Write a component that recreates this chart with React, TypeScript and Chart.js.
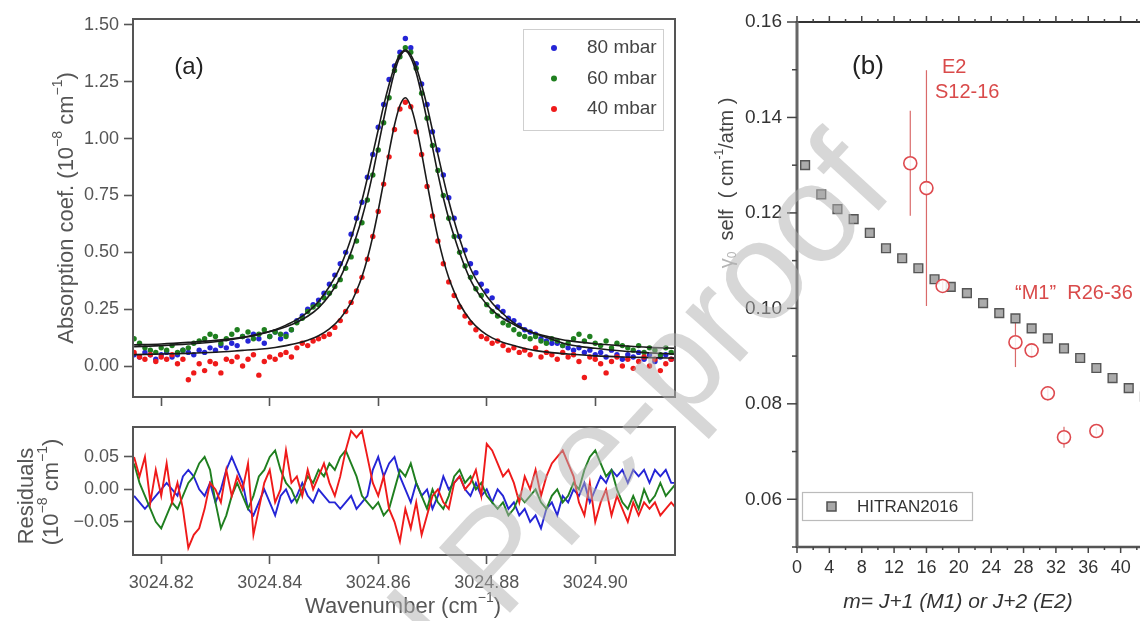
import { useEffect, useRef } from "react";
import { Chart, registerables } from "chart.js";

Chart.register(...registerables);

const FONT = '"Liberation Sans", Arial, Helvetica, sans-serif';

// ---------------- Panel (a) data ----------------
// wavenumber grid: offsets in 1e-3 cm^-1 above 3024.8
const WN_BASE = 3024.8;
const GRID_OFFSETS = [
  15, 16, 17, 18, 19, 20, 21, 22, 23, 24, 25, 26, 27, 28, 29, 30, 31, 32, 33, 34,
  35, 36, 37, 38, 39, 40, 41, 42, 43, 44, 45, 46, 47, 48, 49, 50, 51, 52, 53, 54,
  55, 56, 57, 58, 59, 60, 61, 62, 63, 64, 65, 66, 67, 68, 69, 70, 71, 72, 73, 74,
  75, 76, 77, 78, 79, 80, 81, 82, 83, 84, 85, 86, 87, 88, 89, 90, 91, 92, 93, 94,
  95, 96, 97, 98, 99, 100, 101, 102, 103, 104, 105, 106, 107, 108, 109, 110, 111, 112, 113, 114, 115,
];
const FIT_OFFSETS = [
  15, 20, 25, 30, 35, 38, 41, 43, 45, 47, 49, 51, 53, 55, 56, 57, 58, 59, 60, 61, 62, 63, 64,
  65, 66, 67, 68, 69, 70, 71, 72, 73, 74, 75, 77, 79, 81, 83, 85, 87, 89, 92, 95, 100, 105, 110, 115,
];

const DOTS_80 = [
  0.05, 0.04, 0.06, 0.05, 0.03, 0.05, 0.06, 0.04, 0.05, 0.07,
  0.06, 0.05, 0.07, 0.06, 0.08, 0.07, 0.09, 0.08, 0.10, 0.09,
  0.13, 0.11, 0.14, 0.12, 0.10, 0.13, 0.15, 0.12, 0.14, 0.16,
  0.20, 0.22, 0.25, 0.27, 0.29, 0.32, 0.36, 0.40, 0.45, 0.50,
  0.58, 0.65, 0.72, 0.83, 0.93, 1.05, 1.15, 1.26, 1.32, 1.38,
  1.44,
  1.40, 1.33, 1.24, 1.15, 1.03, 0.95, 0.84, 0.74, 0.65, 0.57,
  0.51, 0.45, 0.41, 0.36, 0.33, 0.30, 0.26, 0.24, 0.21, 0.20,
  0.18, 0.16, 0.15, 0.14, 0.12, 0.11, 0.10, 0.10, 0.09, 0.08,
  0.07, 0.08, 0.06, 0.07, 0.05, 0.06, 0.04, 0.07, 0.05, 0.03,
  0.05, 0.04, 0.06, 0.03, 0.05, 0.02, 0.04, 0.05, 0.03, 0.04,
];
const DOTS_60 = [
  0.12, 0.10, 0.08, 0.07, 0.06, 0.08, 0.07, 0.09, 0.06, 0.07,
  0.08, 0.10, 0.11, 0.12, 0.14, 0.13, 0.10, 0.12, 0.14, 0.16,
  0.13, 0.15, 0.12, 0.14, 0.16, 0.13, 0.15, 0.14, 0.13, 0.16,
  0.19, 0.21, 0.24, 0.26, 0.27, 0.30, 0.32, 0.35, 0.38, 0.43,
  0.48, 0.55, 0.63, 0.73, 0.84, 0.95, 1.07, 1.18, 1.30, 1.36,
  1.40,
  1.38, 1.31, 1.20, 1.09, 0.97, 0.86, 0.75, 0.65, 0.57, 0.50,
  0.44, 0.39, 0.34, 0.31, 0.27, 0.24, 0.22, 0.19, 0.18, 0.16,
  0.14, 0.13, 0.12, 0.13, 0.11, 0.10, 0.12, 0.11, 0.09, 0.10,
  0.12, 0.14, 0.11, 0.13, 0.10, 0.09, 0.11, 0.08, 0.10, 0.09,
  0.08, 0.07, 0.09, 0.06, 0.08, 0.07, 0.05, 0.08, 0.06, 0.07,
];
const DOTS_40 = [
  0.06, 0.04, 0.03, 0.05, 0.02, 0.04, 0.03, 0.05, 0.01, 0.03,
  -0.06, -0.03, 0.01, -0.02, 0.02, 0.01, -0.03, 0.03, 0.02, 0.04,
  0.00, 0.03, 0.05, -0.04, 0.02, 0.04, 0.03, 0.05, 0.06, 0.04,
  0.08, 0.10, 0.09, 0.11, 0.12, 0.13, 0.14, 0.17, 0.20, 0.24,
  0.28, 0.33, 0.39, 0.47, 0.57, 0.68, 0.80, 0.92, 1.04, 1.13,
  1.16,
  1.14, 1.03, 0.93, 0.79, 0.66, 0.55, 0.45, 0.37, 0.31, 0.26,
  0.22, 0.19, 0.16, 0.13, 0.12, 0.10, 0.11, 0.09, 0.07, 0.08,
  0.06, 0.07, 0.05, 0.08, 0.04, 0.06, 0.05, 0.03, 0.06, 0.04,
  0.05, 0.02, -0.05, 0.04, 0.03, 0.01, -0.03, 0.02, 0.04, 0.00,
  0.03, -0.01, 0.02, 0.04, 0.00, 0.03, -0.02, 0.01, 0.03, 0.02,
];

const FIT_80 = [
  0.085, 0.090, 0.097, 0.107, 0.125, 0.139, 0.160, 0.180, 0.204, 0.237, 0.284, 0.350, 0.436, 0.562,
  0.641, 0.728, 0.827, 0.933, 1.039, 1.145, 1.238, 1.317, 1.370, 1.390,
  1.368, 1.315, 1.236, 1.143, 1.037, 0.931, 0.825, 0.726, 0.639, 0.560,
  0.429, 0.343, 0.277, 0.230, 0.190, 0.163, 0.142, 0.118, 0.095, 0.078, 0.066, 0.058, 0.052,
];
const FIT_60 = [
  0.093, 0.097, 0.104, 0.113, 0.127, 0.141, 0.158, 0.173, 0.193, 0.219, 0.256, 0.311, 0.389, 0.501,
  0.573, 0.651, 0.743, 0.848, 0.966, 1.084, 1.195, 1.293, 1.359, 1.385,
  1.356, 1.290, 1.192, 1.081, 0.963, 0.845, 0.740, 0.648, 0.570, 0.498,
  0.379, 0.301, 0.246, 0.209, 0.183, 0.158, 0.143, 0.126, 0.112, 0.098, 0.089, 0.082, 0.078,
];
const FIT_40 = [
  0.050, 0.053, 0.056, 0.061, 0.069, 0.074, 0.082, 0.090, 0.100, 0.114, 0.133, 0.163, 0.209, 0.279,
  0.331, 0.393, 0.473, 0.570, 0.684, 0.810, 0.941, 1.060, 1.146, 1.180,
  1.141, 1.055, 0.936, 0.805, 0.679, 0.565, 0.468, 0.388, 0.326, 0.274,
  0.202, 0.155, 0.124, 0.104, 0.090, 0.077, 0.068, 0.059, 0.053, 0.045, 0.040, 0.037, 0.035,
];

const RES_80 = [
  -0.01, -0.02, -0.03, -0.02, -0.01, 0.00, 0.01, 0.00, -0.01, 0.02,
  0.03, 0.02, 0.00, -0.01, 0.01, -0.02, 0.00, 0.03, 0.05, 0.03,
  0.01, -0.03, -0.04, -0.02, 0.00, -0.02, -0.04, -0.01, 0.00, -0.02,
  -0.01, 0.01, -0.01, -0.02, 0.00, -0.01, -0.02, -0.02, -0.03, -0.02,
  -0.01, -0.03, -0.02, -0.01, 0.03, 0.05, 0.02, 0.04, 0.05, 0.02,
  0.00, -0.02, 0.01, -0.01, 0.00, -0.03, -0.01, 0.02, 0.00, 0.01,
  0.02, 0.00, -0.01, 0.01, -0.01, 0.00, -0.02, 0.00, -0.01, -0.03,
  -0.02, -0.04, -0.03, -0.05, -0.04, -0.06, -0.03, -0.02, -0.04, -0.01,
  -0.02, 0.00, -0.01, 0.01, -0.02, 0.00, 0.02, 0.01, 0.03, 0.02,
  0.03, 0.01, 0.03, 0.02, 0.03, 0.01, 0.03, 0.02, 0.03, 0.01, 0.01,
];
const RES_60 = [
  0.04, 0.01, -0.01, -0.03, -0.05, -0.06, -0.04, -0.02, -0.03, -0.01,
  0.01, 0.02, 0.04, 0.05, 0.03, -0.02, -0.06, -0.04, -0.01, 0.01,
  -0.01, -0.03, -0.01, 0.02, 0.03, 0.05, 0.06, 0.03, 0.01, 0.00,
  -0.02, 0.00, 0.02, 0.01, 0.03, 0.02, 0.04, 0.03, 0.05, 0.06,
  0.04, 0.02, -0.01, -0.02, -0.03, -0.02, -0.04, -0.03, 0.00, 0.03,
  0.02, 0.04, 0.01, -0.01, -0.03, 0.00, -0.02, -0.03, -0.01, 0.02,
  0.03, 0.01, 0.02, 0.00, 0.01, -0.01, -0.02, -0.03, -0.02, -0.04,
  -0.03, -0.01, -0.02, -0.01, 0.00, -0.02, -0.03, -0.01, 0.00, -0.02,
  -0.01, 0.01, 0.00, 0.03, 0.05, 0.06, 0.04, 0.02, 0.03, 0.00,
  -0.02, -0.03, -0.01, -0.03, 0.00, -0.02, -0.01, 0.01, -0.01, 0.00, 0.01,
];
const RES_40 = [
  0.05, 0.02, 0.05, -0.02, 0.03, -0.01, 0.04, -0.02, 0.01, -0.03,
  -0.09, -0.07, -0.06, -0.03, 0.01, 0.00, -0.02, 0.03, -0.01, 0.02,
  0.00, 0.04, -0.07, -0.03, 0.01, 0.03, -0.02, 0.00, 0.06, 0.01,
  0.02, -0.01, 0.03, 0.00, 0.02, 0.04, 0.01, -0.01, 0.02, 0.06,
  0.09, 0.08, 0.09, 0.05, 0.01, -0.01, 0.02, -0.03, -0.05, -0.08,
  -0.03, -0.06, -0.02, -0.07, -0.04, -0.01, 0.00, -0.02, -0.03, 0.01,
  0.02, 0.00, 0.01, 0.03, -0.01, 0.07, 0.06, 0.04, 0.02, 0.03,
  0.01, -0.02, 0.02, 0.00, 0.03, -0.01, 0.02, 0.04, 0.05, 0.06,
  0.04, 0.02, -0.02, -0.04, 0.01, -0.05, -0.02, 0.00, -0.04, -0.01,
  -0.03, -0.05, -0.02, -0.04, -0.02, -0.03, -0.02, -0.04, -0.03, -0.02, -0.03,
];

const SERIES_LABELS = ["80 mbar", "60 mbar", "40 mbar"];
const SERIES_COLORS = ["#2525d6", "#1f7f1f", "#ef1a1a"];

const WN_TICKS = [3024.82, 3024.84, 3024.86, 3024.88, 3024.9];
const ABS_TICKS = [0, 0.25, 0.5, 0.75, 1.0, 1.25, 1.5];
const RES_TICKS = [-0.05, 0, 0.05];

// ---------------- Panel (b) data ----------------
const HITRAN_M = [1, 3, 5, 7, 9, 11, 13, 15, 17, 19, 21, 23, 25, 27, 29, 31, 33, 35, 37, 39, 41, 43];
const HITRAN_G = [
  0.130, 0.1239, 0.1208, 0.1187, 0.1158, 0.1126, 0.1105, 0.1084, 0.1061, 0.1045, 0.1032,
  0.1011, 0.0990, 0.0979, 0.0958, 0.0937, 0.0916, 0.0896, 0.0875, 0.0854, 0.0833, 0.0815,
];
const MEAS_M = [14, 16, 18, 27, 29, 31, 33, 37];
const MEAS_G = [0.1304, 0.1252, 0.1047, 0.0929, 0.0912, 0.0822, 0.0730, 0.0743];
const MEAS_ERR = [0.011, 0.0247, 0.001, 0.0052, 0.0012, 0.0015, 0.0022, 0.0008];
const M_TICKS = [0, 4, 8, 12, 16, 20, 24, 28, 32, 36, 40];
const G_TICKS = [0.06, 0.08, 0.1, 0.12, 0.14, 0.16];

// ---------------- helpers ----------------
type Seg = { t: string; sup?: boolean; sub?: boolean; color?: string };

function drawRich(
  ctx: CanvasRenderingContext2D,
  segs: Seg[],
  x: number,
  y: number,
  o: { size: number; color: string; rot?: number; align?: "left" | "center"; italic?: boolean }
) {
  ctx.save();
  ctx.translate(x, y);
  if (o.rot) ctx.rotate(o.rot);
  const fontOf = (s: Seg) =>
    `${o.italic ? "italic " : ""}${s.sup || s.sub ? Math.round(o.size * 0.62) : o.size}px ${FONT}`;
  let total = 0;
  const widths = segs.map((s) => {
    ctx.font = fontOf(s);
    const w = ctx.measureText(s.t).width;
    total += w;
    return w;
  });
  let cx = o.align === "left" ? 0 : -total / 2;
  ctx.textBaseline = "middle";
  ctx.textAlign = "left";
  segs.forEach((s, i) => {
    ctx.font = fontOf(s);
    ctx.fillStyle = s.color || o.color;
    const dy = s.sup ? -o.size * 0.38 : s.sub ? o.size * 0.28 : 0;
    ctx.fillText(s.t, cx, dy);
    cx += widths[i];
  });
  ctx.restore();
}

const wn = (o: number) => +(WN_BASE + o / 1000).toFixed(4);
const pts = (xs: number[], ys: number[]) => xs.map((x, i) => ({ x, y: ys[i] }));
const fmt2 = (v: number) => (v < 0 ? "\u2212" : "") + Math.abs(v).toFixed(2);

function axisA(min: number, max: number, ticks: number[], isX: boolean, fitSize: number, showLabels: boolean, fmt: (v: number) => string) {
  return {
    type: "linear",
    min,
    max,
    afterBuildTicks: (s: any) => {
      s.ticks = ticks.map((v) => ({ value: v }));
    },
    afterFit: (s: any) => {
      if (isX) s.height = fitSize;
      else s.width = fitSize;
    },
    ticks: {
      display: showLabels,
      font: { family: FONT, size: 18 },
      color: "#555",
      padding: isX ? 8 : 5,
      maxRotation: 0,
      autoSkip: false,
      callback: (v: any) => fmt(Number(v)),
    },
    grid: {
      display: true,
      drawOnChartArea: false,
      drawTicks: true,
      tickLength: 9,
      tickWidth: 1.6,
      tickColor: "#555",
      color: "#555",
    },
    border: { display: false },
  };
}

const frame = {
  id: "frame",
  afterDraw(chart: any) {
    const { ctx, chartArea: a } = chart;
    ctx.save();
    ctx.strokeStyle = "#555";
    ctx.lineWidth = 2;
    ctx.strokeRect(a.left, a.top, a.right - a.left, a.bottom - a.top);
    ctx.restore();
  },
};

const decoTop = {
  id: "decoTop",
  afterDraw(chart: any) {
    const ctx = chart.ctx as CanvasRenderingContext2D;
    drawRich(ctx, [{ t: "(a)" }], 189, 67, { size: 24, color: "#222" });
    drawRich(
      ctx,
      [{ t: "Absorption coef. (10" }, { t: "\u22128", sup: true }, { t: " cm" }, { t: "\u22121", sup: true }, { t: ")" }],
      67,
      208,
      { size: 22, color: "#555", rot: -Math.PI / 2 }
    );
    ctx.save();
    ctx.strokeStyle = "#cfcfcf";
    ctx.lineWidth = 1;
    ctx.strokeRect(523.5, 29.5, 140, 101);
    SERIES_LABELS.forEach((lab, i) => {
      const y = 48 + i * 30.5;
      ctx.fillStyle = SERIES_COLORS[i];
      ctx.beginPath();
      ctx.arc(554, y, 3, 0, Math.PI * 2);
      ctx.fill();
      drawRich(ctx, [{ t: lab }], 587, y, { size: 19, color: "#444", align: "left" });
    });
    ctx.restore();
  },
};

const decoRes = {
  id: "decoRes",
  afterDraw(chart: any) {
    const ctx = chart.ctx as CanvasRenderingContext2D;
    drawRich(ctx, [{ t: "Residuals" }], 27, 91, { size: 22, color: "#555", rot: -Math.PI / 2 });
    drawRich(
      ctx,
      [{ t: "(10" }, { t: "\u22128", sup: true }, { t: " cm" }, { t: "\u22121", sup: true }, { t: ")" }],
      52,
      87,
      { size: 22, color: "#555", rot: -Math.PI / 2 }
    );
    drawRich(ctx, [{ t: "Wavenumber (cm" }, { t: "\u22121", sup: true }, { t: ")" }], 403, 202, { size: 22, color: "#555" });
  },
};

const decoB = {
  id: "decoB",
  beforeDatasetsDraw(chart: any) {
    const { ctx, scales } = chart;
    const x = scales.x, y = scales.y;
    ctx.save();
    ctx.strokeStyle = "#d96a6a";
    ctx.lineWidth = 1.2;
    MEAS_M.forEach((m, i) => {
      const px = x.getPixelForValue(m);
      ctx.beginPath();
      ctx.moveTo(px, y.getPixelForValue(MEAS_G[i] - MEAS_ERR[i]));
      ctx.lineTo(px, y.getPixelForValue(MEAS_G[i] + MEAS_ERR[i]));
      ctx.stroke();
    });
    ctx.restore();
  },
  afterDraw(chart: any) {
    const ctx = chart.ctx as CanvasRenderingContext2D;
    const a = chart.chartArea;
    const x = chart.scales.x, y = chart.scales.y;
    const line = (x1: number, y1: number, x2: number, y2: number) => {
      ctx.beginPath();
      ctx.moveTo(x1, y1);
      ctx.lineTo(x2, y2);
      ctx.stroke();
    };
    ctx.save();
    ctx.strokeStyle = "#333";
    ctx.lineWidth = 2;
    line(a.left, a.top, a.right, a.top);
    ctx.strokeStyle = "#555";
    ctx.lineWidth = 2.5;
    line(a.left, a.bottom, a.right, a.bottom);
    ctx.strokeStyle = "#666";
    ctx.lineWidth = 3;
    line(a.left, a.top - 1, a.left, a.bottom + 1);
    ctx.strokeStyle = "#444";
    ctx.lineWidth = 1.5;
    for (let v = 0; v <= 44; v += 2) {
      const px = x.getPixelForValue(v);
      const len = v % 4 === 0 ? 6 : 3;
      line(px, a.top, px, a.top - len);
      line(px, a.bottom, px, a.bottom + len);
    }
    for (let k = 5; k <= 16; k++) {
      const py = y.getPixelForValue(k / 100);
      const len = k % 2 === 0 ? 10 : 5;
      line(a.left, py, a.left - len, py);
    }
    ctx.restore();

    drawRich(ctx, [{ t: "(b)" }], 168, 87, { size: 26, color: "#222" });
    drawRich(ctx, [{ t: "E2" }], 242, 87, { size: 20, color: "#d94a4a", align: "left" });
    drawRich(ctx, [{ t: "S12-16" }], 235, 112, { size: 20, color: "#d94a4a", align: "left" });
    drawRich(ctx, [{ t: "\u201CM1\u201D  R26-36" }], 315, 313, { size: 20, color: "#d94a4a", align: "left" });
    drawRich(
      ctx,
      [
        { t: "\u03B3", color: "#b5b5b5" },
        { t: "0", sub: true, color: "#b5b5b5" },
        { t: "  self  ( cm" },
        { t: "-1", sup: true },
        { t: "/atm )" },
      ],
      27,
      203,
      { size: 20, color: "#444", rot: -Math.PI / 2 }
    );
    drawRich(ctx, [{ t: "m= J+1 (M1) or J+2 (E2)" }], 258, 622, { size: 21, color: "#333", italic: true });
    ctx.save();
    ctx.strokeStyle = "#bbb";
    ctx.lineWidth = 1.2;
    ctx.strokeRect(102.5, 512.5, 170, 28);
    ctx.fillStyle = "#a8a8a8";
    ctx.fillRect(127, 522, 9, 9);
    ctx.strokeStyle = "#505050";
    ctx.lineWidth = 1.5;
    ctx.strokeRect(127, 522, 9, 9);
    ctx.restore();
    drawRich(ctx, [{ t: "HITRAN2016" }], 157, 527, { size: 17, color: "#333", align: "left" });
  },
};

function makeTop(canvas: HTMLCanvasElement) {
  const gx = GRID_OFFSETS.map(wn);
  const fx = FIT_OFFSETS.map(wn);
  const dotDs = (ys: number[], color: string, order: number) => ({
    data: pts(gx, ys),
    backgroundColor: color,
    borderColor: color,
    borderWidth: 0,
    pointRadius: 2.7,
    pointHoverRadius: 2.7,
    showLine: false,
    order,
  });
  const fitDs = (ys: number[]) => ({
    data: pts(fx, ys),
    showLine: true,
    borderColor: "#1a1a1a",
    borderWidth: 1.6,
    pointRadius: 0,
    cubicInterpolationMode: "monotone",
    fill: false,
    order: 0,
  });
  return new Chart(canvas, {
    type: "scatter",
    data: {
      datasets: [
        dotDs(DOTS_80, SERIES_COLORS[0], 3),
        dotDs(DOTS_60, SERIES_COLORS[1], 2),
        dotDs(DOTS_40, SERIES_COLORS[2], 1),
        fitDs(FIT_80),
        fitDs(FIT_60),
        fitDs(FIT_40),
      ],
    } as any,
    options: {
      animation: false,
      responsive: false,
      devicePixelRatio: 1,
      events: [],
      layout: { padding: { top: 19, right: 15, left: 0, bottom: 0 } },
      plugins: { legend: { display: false }, tooltip: { enabled: false } },
      scales: {
        x: axisA(3024.8148, 3024.9147, WN_TICKS, true, 23, false, (v) => v.toFixed(2)),
        y: axisA(-0.136, 1.526, ABS_TICKS, false, 133, true, fmt2),
      } as any,
    },
    plugins: [frame, decoTop],
  } as any);
}

function makeRes(canvas: HTMLCanvasElement) {
  const gx = GRID_OFFSETS.map(wn);
  const lineDs = (ys: number[], color: string, order: number) => ({
    data: pts(gx, ys),
    showLine: true,
    borderColor: color,
    borderWidth: 1.9,
    pointRadius: 0,
    tension: 0,
    fill: false,
    order,
  });
  return new Chart(canvas, {
    type: "scatter",
    data: {
      datasets: [
        lineDs(RES_80, SERIES_COLORS[0], 2),
        lineDs(RES_60, SERIES_COLORS[1], 1),
        lineDs(RES_40, SERIES_COLORS[2], 0),
      ],
    } as any,
    options: {
      animation: false,
      responsive: false,
      devicePixelRatio: 1,
      events: [],
      layout: { padding: { top: 22, right: 15, left: 0, bottom: 0 } },
      plugins: { legend: { display: false }, tooltip: { enabled: false } },
      scales: {
        x: axisA(3024.8148, 3024.9147, WN_TICKS, true, 66, true, (v) => v.toFixed(2)),
        y: axisA(-0.101, 0.096, RES_TICKS, false, 133, true, fmt2),
      } as any,
    },
    plugins: [frame, decoRes],
  } as any);
}

function makeB(canvas: HTMLCanvasElement) {
  return new Chart(canvas, {
    type: "scatter",
    data: {
      datasets: [
        {
          label: "HITRAN2016",
          data: pts(HITRAN_M, HITRAN_G),
          pointStyle: "rect",
          pointRadius: 6.2,
          pointHoverRadius: 6.2,
          backgroundColor: "#ababab",
          borderColor: "#555",
          borderWidth: 1.4,
          order: 2,
        },
        {
          label: "measured",
          data: pts(MEAS_M, MEAS_G),
          pointStyle: "circle",
          pointRadius: 6.5,
          pointHoverRadius: 6.5,
          backgroundColor: "rgba(255,255,255,0.85)",
          borderColor: "#de4a4f",
          borderWidth: 1.6,
          order: 1,
        },
      ],
    } as any,
    options: {
      animation: false,
      responsive: false,
      devicePixelRatio: 1,
      events: [],
      layout: { padding: { top: 42, right: 27, left: 0, bottom: 0 } },
      plugins: { legend: { display: false }, tooltip: { enabled: false } },
      scales: {
        x: {
          type: "linear",
          min: 0,
          max: 44,
          afterBuildTicks: (s: any) => {
            s.ticks = M_TICKS.map((v) => ({ value: v }));
          },
          afterFit: (s: any) => {
            s.height = 74;
          },
          ticks: { font: { family: FONT, size: 18 }, color: "#333", padding: 10, maxRotation: 0, autoSkip: false },
          grid: { display: false, drawTicks: false },
          border: { display: false },
        },
        y: {
          type: "linear",
          min: 0.05,
          max: 0.16,
          afterBuildTicks: (s: any) => {
            s.ticks = G_TICKS.map((v) => ({ value: v }));
          },
          afterFit: (s: any) => {
            s.width = 97;
          },
          ticks: {
            font: { family: FONT, size: 19 },
            color: "#333",
            padding: 15,
            callback: (v: any) => Number(v).toFixed(2),
          },
          grid: { display: false, drawTicks: false },
          border: { display: false },
        },
      } as any,
    },
    plugins: [decoB],
  } as any);
}

function drawWatermark(canvas: HTMLCanvasElement) {
  const ctx = canvas.getContext("2d");
  if (!ctx) return;
  ctx.clearRect(0, 0, canvas.width, canvas.height);
  ctx.save();
  ctx.translate(868, 165);
  ctx.rotate((-47.5 * Math.PI) / 180);
  ctx.font = `140px ${FONT}`;
  ctx.textAlign = "right";
  ctx.textBaseline = "middle";
  ctx.fillStyle = "rgba(175,175,175,0.5)";
  ctx.fillText("Journal Pre-proof", 0, 0);
  ctx.restore();
}

export default function App() {
  const topRef = useRef<HTMLCanvasElement>(null);
  const resRef = useRef<HTMLCanvasElement>(null);
  const bRef = useRef<HTMLCanvasElement>(null);
  const wmRef = useRef<HTMLCanvasElement>(null);

  useEffect(() => {
    const charts: Chart[] = [];
    if (topRef.current) charts.push(makeTop(topRef.current));
    if (resRef.current) charts.push(makeRes(resRef.current));
    if (bRef.current) charts.push(makeB(bRef.current));
    if (wmRef.current) drawWatermark(wmRef.current);
    return () => charts.forEach((c) => c.destroy());
  }, []);

  const abs = (l: number, t: number, w: number, h: number) =>
    ({ position: "absolute", left: l, top: t, width: w, height: h } as any);

  return (
    <div style={{ position: "fixed", left: 0, top: 0, width: 1140, height: 621, overflow: "hidden", background: "#fff" }}>
      <canvas ref={topRef} width={690} height={420} style={abs(0, 0, 690, 420)} />
      <canvas ref={resRef} width={690} height={216} style={abs(0, 405, 690, 216)} />
      <canvas ref={bRef} width={480} height={641} style={abs(700, -20, 480, 641)} />
      <canvas ref={wmRef} width={1140} height={621} style={{ ...abs(0, 0, 1140, 621), pointerEvents: "none" }} />
    </div>
  );
}
